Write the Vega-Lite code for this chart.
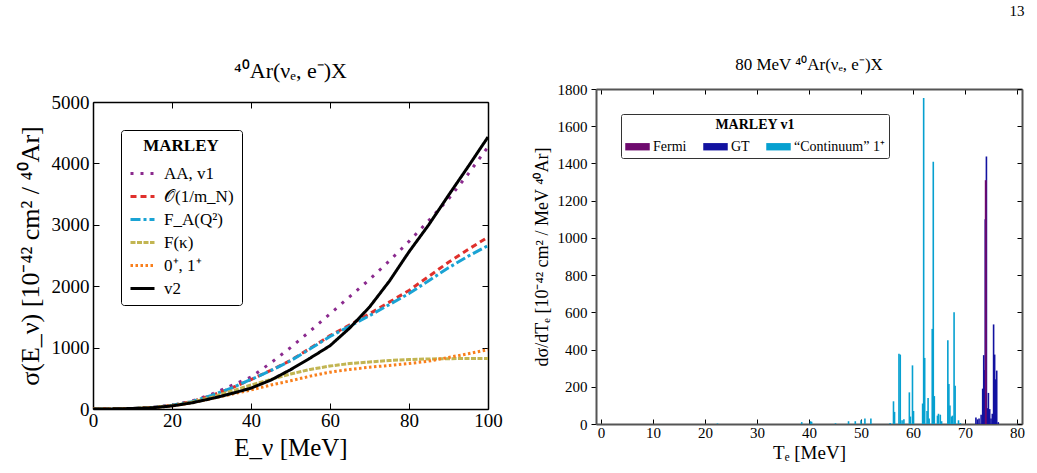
{
  "$schema": "https://vega.github.io/schema/vega-lite/v6.json",
  "background": "white",
  "padding": {"left": 16, "top": 4, "right": 6, "bottom": 0},
  "title": {"text": "13", "anchor": "end", "font": "Liberation Serif", "fontSize": 15, "fontWeight": "normal", "offset": 37, "color": "black"},
  "config": {
    "font": "Liberation Serif",
    "view": {"stroke": null},
    "axis": {"grid": false, "labelColor": "black", "titleColor": "black", "titleFontWeight": "normal", "labelFont": "Liberation Serif", "titleFont": "Liberation Serif", "format": "d"},
    "legend": {"labelFont": "Liberation Serif", "titleFont": "Liberation Serif"}
  },
  "resolve": {"scale": {"color": "independent", "strokeDash": "independent"}, "legend": {"color": "independent", "strokeDash": "independent"}},
  "center": {"row": true},
  "datasets": {
    "xs": [
      {"E": 0, "model": "AA, v1", "sigma": 0}, {"E": 5, "model": "AA, v1", "sigma": 2}, {"E": 10, "model": "AA, v1", "sigma": 8}, {"E": 15, "model": "AA, v1", "sigma": 25}, {"E": 20, "model": "AA, v1", "sigma": 60}, {"E": 25, "model": "AA, v1", "sigma": 130}, {"E": 30, "model": "AA, v1", "sigma": 240}, {"E": 35, "model": "AA, v1", "sigma": 380}, {"E": 40, "model": "AA, v1", "sigma": 520}, {"E": 45, "model": "AA, v1", "sigma": 750}, {"E": 50, "model": "AA, v1", "sigma": 1000}, {"E": 55, "model": "AA, v1", "sigma": 1270}, {"E": 60, "model": "AA, v1", "sigma": 1550}, {"E": 65, "model": "AA, v1", "sigma": 1830}, {"E": 70, "model": "AA, v1", "sigma": 2110}, {"E": 75, "model": "AA, v1", "sigma": 2410}, {"E": 80, "model": "AA, v1", "sigma": 2730}, {"E": 85, "model": "AA, v1", "sigma": 3070}, {"E": 90, "model": "AA, v1", "sigma": 3420}, {"E": 95, "model": "AA, v1", "sigma": 3830}, {"E": 100, "model": "AA, v1", "sigma": 4270},
      {"E": 0, "model": "𝒪(1/m_N)", "sigma": 0}, {"E": 5, "model": "𝒪(1/m_N)", "sigma": 2}, {"E": 10, "model": "𝒪(1/m_N)", "sigma": 8}, {"E": 15, "model": "𝒪(1/m_N)", "sigma": 25}, {"E": 20, "model": "𝒪(1/m_N)", "sigma": 60}, {"E": 25, "model": "𝒪(1/m_N)", "sigma": 120}, {"E": 30, "model": "𝒪(1/m_N)", "sigma": 220}, {"E": 35, "model": "𝒪(1/m_N)", "sigma": 340}, {"E": 40, "model": "𝒪(1/m_N)", "sigma": 480}, {"E": 45, "model": "𝒪(1/m_N)", "sigma": 630}, {"E": 50, "model": "𝒪(1/m_N)", "sigma": 790}, {"E": 55, "model": "𝒪(1/m_N)", "sigma": 990}, {"E": 60, "model": "𝒪(1/m_N)", "sigma": 1195}, {"E": 65, "model": "𝒪(1/m_N)", "sigma": 1370}, {"E": 70, "model": "𝒪(1/m_N)", "sigma": 1550}, {"E": 75, "model": "𝒪(1/m_N)", "sigma": 1740}, {"E": 80, "model": "𝒪(1/m_N)", "sigma": 1930}, {"E": 85, "model": "𝒪(1/m_N)", "sigma": 2160}, {"E": 90, "model": "𝒪(1/m_N)", "sigma": 2390}, {"E": 95, "model": "𝒪(1/m_N)", "sigma": 2600}, {"E": 100, "model": "𝒪(1/m_N)", "sigma": 2800},
      {"E": 0, "model": "F_A(Q²)", "sigma": 0}, {"E": 5, "model": "F_A(Q²)", "sigma": 2}, {"E": 10, "model": "F_A(Q²)", "sigma": 8}, {"E": 15, "model": "F_A(Q²)", "sigma": 25}, {"E": 20, "model": "F_A(Q²)", "sigma": 60}, {"E": 25, "model": "F_A(Q²)", "sigma": 120}, {"E": 30, "model": "F_A(Q²)", "sigma": 220}, {"E": 35, "model": "F_A(Q²)", "sigma": 340}, {"E": 40, "model": "F_A(Q²)", "sigma": 480}, {"E": 45, "model": "F_A(Q²)", "sigma": 625}, {"E": 50, "model": "F_A(Q²)", "sigma": 785}, {"E": 55, "model": "F_A(Q²)", "sigma": 980}, {"E": 60, "model": "F_A(Q²)", "sigma": 1180}, {"E": 65, "model": "F_A(Q²)", "sigma": 1350}, {"E": 70, "model": "F_A(Q²)", "sigma": 1520}, {"E": 75, "model": "F_A(Q²)", "sigma": 1700}, {"E": 80, "model": "F_A(Q²)", "sigma": 1880}, {"E": 85, "model": "F_A(Q²)", "sigma": 2090}, {"E": 90, "model": "F_A(Q²)", "sigma": 2300}, {"E": 95, "model": "F_A(Q²)", "sigma": 2490}, {"E": 100, "model": "F_A(Q²)", "sigma": 2660},
      {"E": 0, "model": "F(κ)", "sigma": 0}, {"E": 5, "model": "F(κ)", "sigma": 2}, {"E": 10, "model": "F(κ)", "sigma": 8}, {"E": 15, "model": "F(κ)", "sigma": 22}, {"E": 20, "model": "F(κ)", "sigma": 55}, {"E": 25, "model": "F(κ)", "sigma": 110}, {"E": 30, "model": "F(κ)", "sigma": 190}, {"E": 35, "model": "F(κ)", "sigma": 290}, {"E": 40, "model": "F(κ)", "sigma": 390}, {"E": 45, "model": "F(κ)", "sigma": 480}, {"E": 50, "model": "F(κ)", "sigma": 570}, {"E": 55, "model": "F(κ)", "sigma": 645}, {"E": 60, "model": "F(κ)", "sigma": 700}, {"E": 65, "model": "F(κ)", "sigma": 740}, {"E": 70, "model": "F(κ)", "sigma": 765}, {"E": 75, "model": "F(κ)", "sigma": 790}, {"E": 80, "model": "F(κ)", "sigma": 805}, {"E": 85, "model": "F(κ)", "sigma": 815}, {"E": 90, "model": "F(κ)", "sigma": 820}, {"E": 95, "model": "F(κ)", "sigma": 822}, {"E": 100, "model": "F(κ)", "sigma": 822},
      {"E": 0, "model": "0⁺, 1⁺", "sigma": 0}, {"E": 5, "model": "0⁺, 1⁺", "sigma": 2}, {"E": 10, "model": "0⁺, 1⁺", "sigma": 8}, {"E": 15, "model": "0⁺, 1⁺", "sigma": 20}, {"E": 20, "model": "0⁺, 1⁺", "sigma": 50}, {"E": 25, "model": "0⁺, 1⁺", "sigma": 100}, {"E": 30, "model": "0⁺, 1⁺", "sigma": 170}, {"E": 35, "model": "0⁺, 1⁺", "sigma": 240}, {"E": 40, "model": "0⁺, 1⁺", "sigma": 310}, {"E": 45, "model": "0⁺, 1⁺", "sigma": 390}, {"E": 50, "model": "0⁺, 1⁺", "sigma": 460}, {"E": 55, "model": "0⁺, 1⁺", "sigma": 535}, {"E": 60, "model": "0⁺, 1⁺", "sigma": 600}, {"E": 65, "model": "0⁺, 1⁺", "sigma": 645}, {"E": 70, "model": "0⁺, 1⁺", "sigma": 680}, {"E": 75, "model": "0⁺, 1⁺", "sigma": 710}, {"E": 80, "model": "0⁺, 1⁺", "sigma": 740}, {"E": 85, "model": "0⁺, 1⁺", "sigma": 780}, {"E": 90, "model": "0⁺, 1⁺", "sigma": 840}, {"E": 95, "model": "0⁺, 1⁺", "sigma": 900}, {"E": 100, "model": "0⁺, 1⁺", "sigma": 965},
      {"E": 0, "model": "v2", "sigma": 0}, {"E": 5, "model": "v2", "sigma": 2}, {"E": 10, "model": "v2", "sigma": 8}, {"E": 15, "model": "v2", "sigma": 20}, {"E": 20, "model": "v2", "sigma": 50}, {"E": 25, "model": "v2", "sigma": 100}, {"E": 30, "model": "v2", "sigma": 170}, {"E": 35, "model": "v2", "sigma": 250}, {"E": 40, "model": "v2", "sigma": 340}, {"E": 45, "model": "v2", "sigma": 470}, {"E": 50, "model": "v2", "sigma": 640}, {"E": 55, "model": "v2", "sigma": 830}, {"E": 60, "model": "v2", "sigma": 1030}, {"E": 65, "model": "v2", "sigma": 1320}, {"E": 70, "model": "v2", "sigma": 1660}, {"E": 75, "model": "v2", "sigma": 2080}, {"E": 80, "model": "v2", "sigma": 2560}, {"E": 85, "model": "v2", "sigma": 3000}, {"E": 90, "model": "v2", "sigma": 3480}, {"E": 95, "model": "v2", "sigma": 3950}, {"E": 100, "model": "v2", "sigma": 4430}
    ],
    "spec": [
      {"T": 22.4, "c": "“Continuum” 1⁺", "v": 3}, {"T": 38.6, "c": "“Continuum” 1⁺", "v": 10}, {"T": 40.3, "c": "“Continuum” 1⁺", "v": 15}, {"T": 40.5, "c": "“Continuum” 1⁺", "v": 12}, {"T": 45.1, "c": "“Continuum” 1⁺", "v": 4}, {"T": 47.6, "c": "“Continuum” 1⁺", "v": 15}, {"T": 48.9, "c": "“Continuum” 1⁺", "v": 15}, {"T": 50.0, "c": "“Continuum” 1⁺", "v": 20}, {"T": 50.75, "c": "“Continuum” 1⁺", "v": 30}, {"T": 51.9, "c": "“Continuum” 1⁺", "v": 30}, {"T": 55.6, "c": "“Continuum” 1⁺", "v": 5},
      {"T": 56.25, "c": "“Continuum” 1⁺", "v": 122}, {"T": 56.45, "c": "“Continuum” 1⁺", "v": 65}, {"T": 57.3, "c": "“Continuum” 1⁺", "v": 378}, {"T": 57.55, "c": "“Continuum” 1⁺", "v": 373}, {"T": 57.9, "c": "“Continuum” 1⁺", "v": 20}, {"T": 58.25, "c": "“Continuum” 1⁺", "v": 25},
      {"T": 59.3, "c": "“Continuum” 1⁺", "v": 170}, {"T": 59.5, "c": "“Continuum” 1⁺", "v": 40}, {"T": 59.9, "c": "“Continuum” 1⁺", "v": 315}, {"T": 60.1, "c": "“Continuum” 1⁺", "v": 70},
      {"T": 61.85, "c": "“Continuum” 1⁺", "v": 110}, {"T": 62.05, "c": "“Continuum” 1⁺", "v": 1751}, {"T": 62.25, "c": "“Continuum” 1⁺", "v": 355}, {"T": 62.7, "c": "“Continuum” 1⁺", "v": 70}, {"T": 62.9, "c": "“Continuum” 1⁺", "v": 140}, {"T": 63.1, "c": "“Continuum” 1⁺", "v": 30},
      {"T": 63.7, "c": "“Continuum” 1⁺", "v": 511}, {"T": 63.9, "c": "“Continuum” 1⁺", "v": 1409}, {"T": 64.1, "c": "“Continuum” 1⁺", "v": 150}, {"T": 64.7, "c": "“Continuum” 1⁺", "v": 45}, {"T": 64.9, "c": "“Continuum” 1⁺", "v": 55}, {"T": 65.25, "c": "“Continuum” 1⁺", "v": 50}, {"T": 65.5, "c": "“Continuum” 1⁺", "v": 15},
      {"T": 66.7, "c": "“Continuum” 1⁺", "v": 450}, {"T": 66.9, "c": "“Continuum” 1⁺", "v": 215}, {"T": 67.1, "c": "“Continuum” 1⁺", "v": 100}, {"T": 67.4, "c": "“Continuum” 1⁺", "v": 40}, {"T": 67.6, "c": "“Continuum” 1⁺", "v": 45}, {"T": 67.9, "c": "“Continuum” 1⁺", "v": 600}, {"T": 68.1, "c": "“Continuum” 1⁺", "v": 206}, {"T": 68.75, "c": "“Continuum” 1⁺", "v": 20}, {"T": 69.1, "c": "“Continuum” 1⁺", "v": 5},
      {"T": 72.1, "c": "GT", "v": 35}, {"T": 72.4, "c": "GT", "v": 25}, {"T": 72.7, "c": "GT", "v": 30}, {"T": 73.1, "c": "GT", "v": 50}, {"T": 73.4, "c": "GT", "v": 190}, {"T": 73.6, "c": "GT", "v": 370}, {"T": 73.8, "c": "GT", "v": 290}, {"T": 73.9, "c": "GT", "v": 1100}, {"T": 74.12, "c": "GT", "v": 1437}, {"T": 74.35, "c": "GT", "v": 85}, {"T": 74.5, "c": "GT", "v": 167}, {"T": 74.75, "c": "GT", "v": 80}, {"T": 75.0, "c": "GT", "v": 30}, {"T": 75.25, "c": "GT", "v": 55}, {"T": 75.5, "c": "GT", "v": 535}, {"T": 75.7, "c": "GT", "v": 373}, {"T": 75.9, "c": "GT", "v": 240}, {"T": 76.1, "c": "GT", "v": 287}, {"T": 76.4, "c": "GT", "v": 10},
      {"T": 74.0, "c": "Fermi", "v": 1310}
    ]
  },
  "spacing": 30,
  "hconcat": [
    {
      "width": 395,
      "height": 307,
      "title": {"text": "⁴⁰Ar(νₑ, e⁻)X", "font": "Liberation Serif", "fontSize": 22, "fontWeight": "normal", "offset": 10, "color": "black"},
      "data": {"name": "xs"},
      "resolve": {"axis": {"x": "independent", "y": "independent"}},
      "layer": [
        {
          "mark": {"type": "line", "strokeWidth": 3, "clip": true},
          "encoding": {
            "x": {"field": "E", "type": "quantitative", "scale": {"domain": [0, 100], "nice": false},
              "axis": {"title": "E_ν [MeV]", "format": "d", "values": [0, 20, 40, 60, 80, 100], "tickSize": -6, "labelPadding": 8, "domainColor": "black", "domainWidth": 1.5, "tickColor": "black", "tickWidth": 1, "labelFont": "Liberation Serif", "titleFont": "Liberation Serif", "labelFontSize": 19, "titleFontSize": 25, "titlePadding": 5, "labelFlush": false}},
            "y": {"field": "sigma", "type": "quantitative", "scale": {"domain": [0, 5000], "nice": false},
              "axis": {"title": "σ(E_ν) [10⁻⁴² cm² / ⁴⁰Ar]", "format": "d", "values": [0, 1000, 2000, 3000, 4000, 5000], "tickSize": -6, "labelPadding": 10, "domainColor": "black", "domainWidth": 1.5, "tickColor": "black", "labelFont": "Liberation Serif", "titleFont": "Liberation Serif", "labelFontSize": 19, "titleFontSize": 26, "titlePadding": 8, "labelFlush": false}},
            "color": {"field": "model", "type": "nominal",
              "scale": {"domain": ["AA, v1", "𝒪(1/m_N)", "F_A(Q²)", "F(κ)", "0⁺, 1⁺", "v2"], "range": ["#8b2a8e", "#e0302c", "#1aa3d4", "#c2b552", "#f97f1c", "#000000"]},
              "legend": {"title": "MARLEY", "orient": "top-left", "offset": 28, "titleAnchor": "middle", "titleFontSize": 17, "titleFontWeight": "bold", "labelFontSize": 17, "symbolType": "stroke", "symbolStrokeWidth": 3, "symbolSize": 576, "strokeColor": "black", "fillColor": "white", "padding": 8, "cornerRadius": 3, "rowPadding": 1, "titlePadding": 5, "labelOffset": 8}},
            "strokeDash": {"field": "model", "type": "nominal",
              "scale": {"domain": ["AA, v1", "𝒪(1/m_N)", "F_A(Q²)", "F(κ)", "0⁺, 1⁺", "v2"], "range": [[3, 7], [6, 4], [10, 3, 3, 3], [5, 1.5], [2.5, 2.5], [1, 0]]},
              "legend": null}
          }
        },
        {
          "mark": {"type": "line", "opacity": 0},
          "encoding": {
            "x": {"field": "E", "type": "quantitative", "axis": {"orient": "top", "title": null, "labels": false, "values": [0, 20, 40, 60, 80, 100], "tickSize": -6, "domainColor": "black", "domainWidth": 1.5, "tickColor": "black"}},
            "y": {"field": "sigma", "type": "quantitative", "axis": {"orient": "right", "title": null, "labels": false, "values": [0, 1000, 2000, 3000, 4000, 5000], "tickSize": -6, "domainColor": "black", "domainWidth": 1.5, "tickColor": "black"}}
          }
        }
      ]
    },
    {
      "width": 426,
      "height": 335,
      "title": {"text": "80 MeV ⁴⁰Ar(νₑ, e⁻)X", "font": "Liberation Serif", "fontSize": 17, "fontWeight": "normal", "offset": 8, "color": "black"},
      "data": {"name": "spec"},
      "resolve": {"axis": {"x": "independent", "y": "independent"}},
      "encoding": {
        "color": {"field": "c", "type": "nominal",
          "scale": {"domain": ["Fermi", "GT", "“Continuum” 1⁺"], "range": ["#6e0a6e", "#1212a0", "#06a0d0"]},
          "legend": {"title": "MARLEY v1", "orient": "top-left", "offset": 25, "direction": "horizontal", "titleAnchor": "middle", "titleFontSize": 14, "titleFontWeight": "bold", "labelFontSize": 14, "symbolType": "M-1,-0.3H1V0.3H-1Z", "symbolSize": 600, "symbolStrokeWidth": 0, "symbolOpacity": 1, "strokeColor": "#333333", "fillColor": "white", "padding": 4, "cornerRadius": 2, "columnPadding": 16, "labelOffset": 3, "titlePadding": 2}}
      },
      "layer": [
        {
          "transform": [{"filter": "datum.c !== 'Fermi'"}],
          "mark": {"type": "bar", "width": 1.6},
          "encoding": {
            "x": {"field": "T", "type": "quantitative", "scale": {"domain": [0, 80], "nice": false},
              "axis": {"title": ["Tₑ [MeV]", " "], "titleLineHeight": 11, "titleBaseline": "top", "format": "d", "values": [0, 10, 20, 30, 40, 50, 60, 70, 80], "tickSize": -5, "labelPadding": 6, "domainColor": "#555555", "domainWidth": 2, "tickColor": "black", "labelFont": "Liberation Serif", "titleFont": "Liberation Serif", "labelFontSize": 15, "titleFontSize": 19, "titlePadding": 3, "labelFlush": false}},
            "y": {"field": "v", "type": "quantitative", "stack": null, "scale": {"domain": [0, 1800], "nice": false},
              "axis": {"title": "dσ/dTₑ [10⁻⁴² cm² / MeV ⁴⁰Ar]", "format": "d", "values": [0, 200, 400, 600, 800, 1000, 1200, 1400, 1600, 1800], "tickSize": 5, "labelPadding": 4, "domainColor": "#555555", "domainWidth": 2, "tickColor": "black", "labelFont": "Liberation Serif", "titleFont": "Liberation Serif", "labelFontSize": 15, "titleFontSize": 18, "titlePadding": 6, "labelFlush": false}}
          }
        },
        {
          "mark": {"type": "bar", "opacity": 0},
          "encoding": {
            "x": {"field": "T", "type": "quantitative", "axis": {"orient": "top", "title": null, "labels": false, "values": [0, 10, 20, 30, 40, 50, 60, 70, 80], "tickSize": -5, "domainColor": "#555555", "domainWidth": 2, "tickColor": "black"}},
            "y": {"field": "v", "type": "quantitative", "stack": null, "axis": {"orient": "right", "title": null, "labels": false, "values": [0, 200, 400, 600, 800, 1000, 1200, 1400, 1600, 1800], "tickSize": -5, "domainColor": "#555555", "domainWidth": 2, "tickColor": "black"}}
          }
        },
        {
          "transform": [{"filter": "datum.c === 'Fermi'"}],
          "mark": {"type": "bar", "width": 2},
          "encoding": {
            "x": {"field": "T", "type": "quantitative", "axis": null},
            "y": {"field": "v", "type": "quantitative", "stack": null, "axis": null}
          }
        }
      ]
    }
  ]
}
